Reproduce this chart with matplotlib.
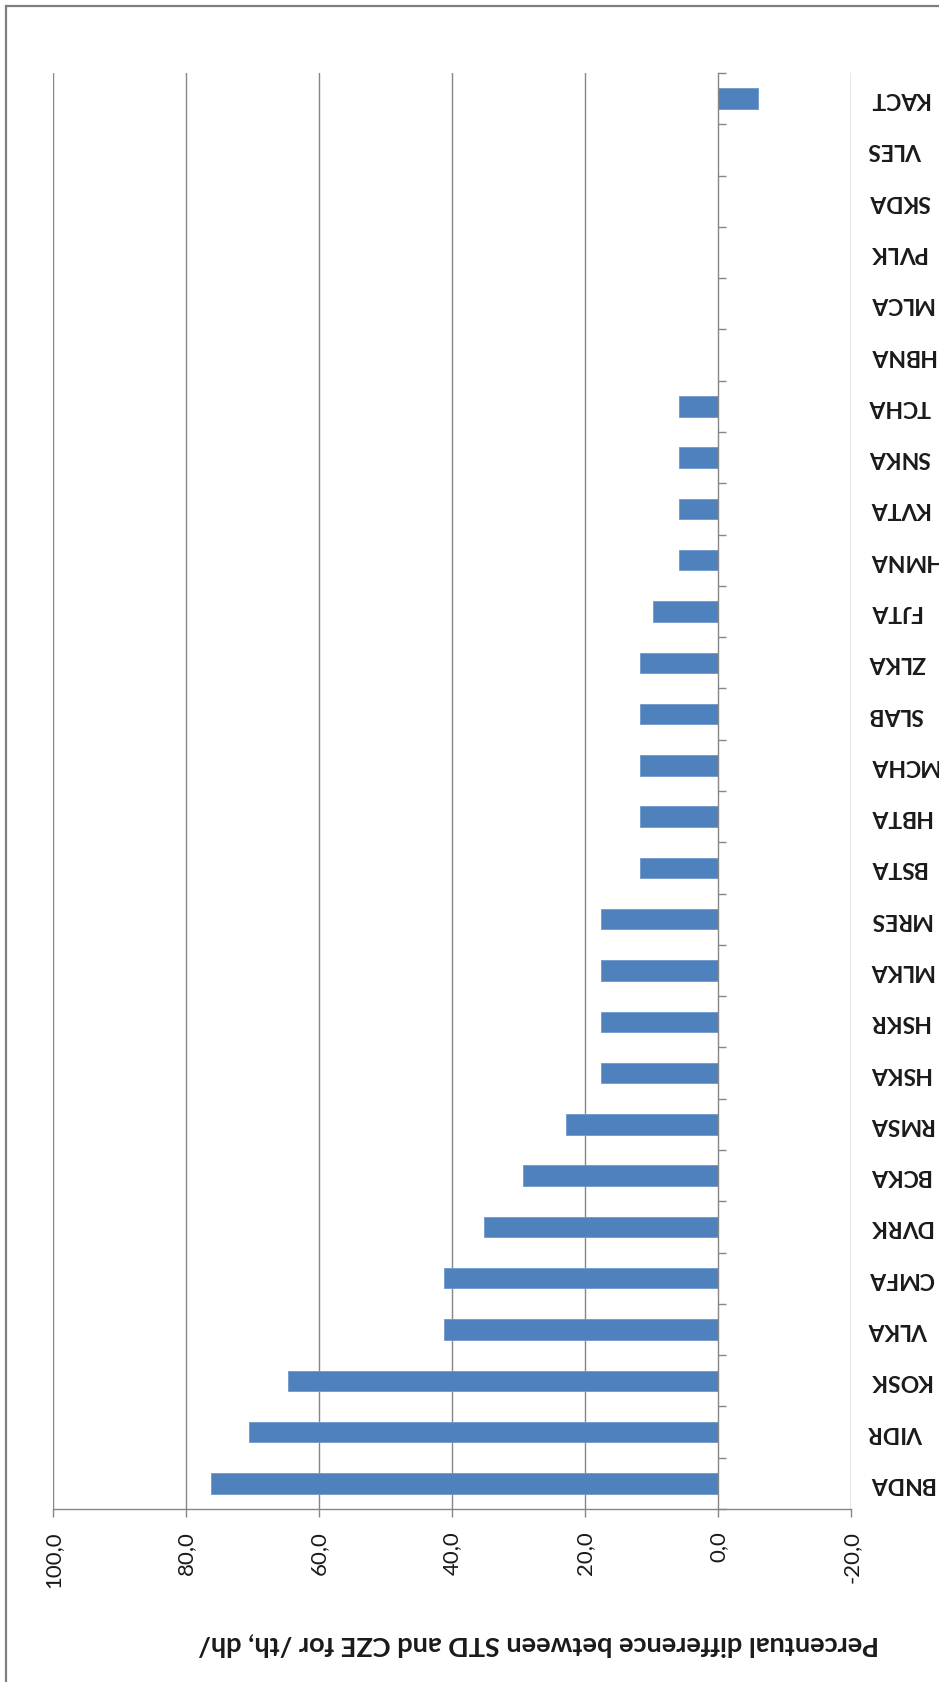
import matplotlib
matplotlib.use("Agg")
import matplotlib.pyplot as plt
from matplotlib.patches import Rectangle
import matplotlib.transforms as mtransforms

categories = ["KACT", "VLES", "SKDA", "PVLK", "MLCA", "HBNA", "TCHA", "SNKA",
              "KVTA", "HMNA", "FJTA", "ZLKA", "SLAB", "MCHA", "HBTA", "BSTA",
              "MRES", "MLKA", "HSKR", "HSKA", "RMSA", "BCKA", "DVRK", "CMFA",
              "VLKA", "KOSK", "VIDR", "BNDA"]
values = [-5.9, 0.0, 0.0, 0.0, 0.0, 0.0, 5.9, 5.9,
          5.9, 5.9, 9.8, 11.8, 11.8, 11.8, 11.8, 11.8,
          17.6, 17.6, 17.6, 17.6, 22.9, 29.4, 35.3, 41.2,
          41.2, 64.7, 70.5, 76.3]
xticks = [100, 80, 60, 40, 20, 0, -20]
xtick_labels = ["100,0", "80,0", "60,0", "40,0", "20,0", "0,0", "-20,0"]
axis_title = "Percentual difference between STD and CZE for /th, dh/"

W, H = 939, 1682
fig = plt.figure(figsize=(W / 100, H / 100), dpi=100)
fig.patch.set_facecolor("white")

left, right, top, bottom = 53.3, 851.3, 73, 1509
ax = fig.add_axes([left / W, 1 - bottom / H, (right - left) / W, (bottom - top) / H])

grid_c = "#868686"
n = len(categories)
pos = list(range(n))
ax.barh(pos, values, height=0.4, color="#4F81BD", edgecolor="#6f98cc", linewidth=0.6, zorder=3)

ax.set_xlim(100, -20)
ax.set_ylim(n - 0.5, -0.5)

for v in xticks:
    if v != 0:
        ax.axvline(v, color=grid_c, lw=1.0, zorder=1)

# category axis at value 0
for s in ["top", "right"]:
    ax.spines[s].set_visible(False)
ax.spines["left"].set_position(("data", 0))
ax.spines["left"].set_color(grid_c)
ax.spines["left"].set_linewidth(1.0)
ax.spines["left"].set_zorder(4)
ax.spines["bottom"].set_color(grid_c)
ax.spines["bottom"].set_linewidth(1.0)

ax.set_yticks([p - 0.5 for p in pos] + [n - 0.5])
ax.set_yticklabels([])
ax.tick_params(axis="y", direction="in", length=6, color=grid_c, width=1.0)

ax.set_xticks(xticks)
ax.set_xticklabels(xtick_labels, rotation=90, va="top", ha="center",
                   fontsize=16, family="Lato", color="#1a1a1a")
ax.tick_params(axis="x", direction="out", length=6, color=grid_c, width=1.0, pad=10)

trans = mtransforms.blended_transform_factory(ax.transAxes, ax.transData)
for p, c in zip(pos, categories):
    ax.text(1 + 17 / (right - left), p, c, transform=trans, rotation=180,
            ha="left", va="center", fontsize=16.5, fontweight="bold",
            family="Lato", color="#1a1a1a")

fig.text(539 / W, 1 - 1645 / H, axis_title, rotation=180, ha="center", va="center",
         fontsize=19.5, fontweight="bold", family="Lato", color="#1a1a1a")

fig.patches.append(Rectangle((6 / W, -0.1), 2, 1 - 6 / H + 0.1, transform=fig.transFigure,
                             fill=False, edgecolor="#7f7f7f", lw=1.6))

fig.savefig("out.png", dpi=100, facecolor="white")
